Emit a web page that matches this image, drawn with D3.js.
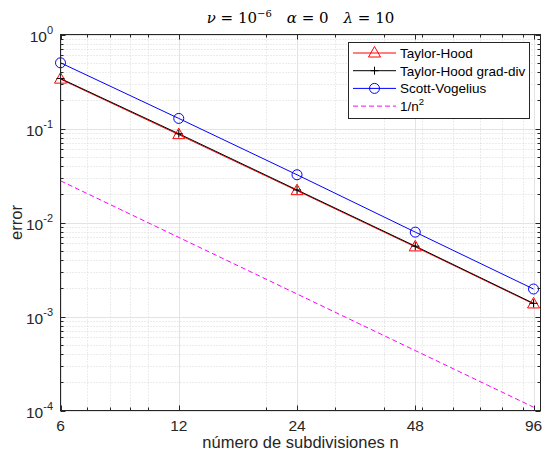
<!DOCTYPE html>
<html>
<head>
<meta charset="utf-8">
<script src="https://cdn.jsdelivr.net/npm/d3@7"></script>
<style>
  body { margin: 0; background: #fff; }
  svg { display: block; }
</style>
</head>
<body>
<script>
var width = 544;
var height = 455;

// datos
var subdivisiones = [6, 12, 24, 48, 96];
var taylorHood = [0.335, 0.086, 0.0218, 0.0055, 0.00136];
var taylorHoodGradDiv = [0.34, 0.088, 0.0222, 0.0056, 0.00138];
var scottVogelius = [0.50, 0.128, 0.0322, 0.0079, 0.00196];
var unoSobreN2 = [0.02778, 0.006944, 0.001736, 0.000434, 0.0001085];
var xTicks = [6, 12, 24, 48, 96];
var xMinor = [7, 8, 9, 10, 20, 30, 40, 50, 60, 70, 80, 90];
var yTicks = [1e-4, 1e-3, 1e-2, 1e-1, 1];
var yExp = ['-4', '-3', '-2', '-1', '0'];

var pL = 60.5, pR = 540.5, pT = 34.5, pB = 410.5;
var axisColor = '#262626';

var svg = d3.select('body').append('svg')
  .attr('width', width)
  .attr('height', height)
  .style('font-family', 'Liberation Sans, Arial, sans-serif');

var x = d3.scaleLog().domain([6, 100]).range([pL, pR]);
var y = d3.scaleLog().domain([1e-4, 1]).range([pB, pT]);

var yMinor = [];
[1e-4, 1e-3, 1e-2, 1e-1].forEach(function(d){
  for (var k = 2; k <= 9; k++) yMinor.push(d * k);
});

// grid
var grid = svg.append('g');
grid.selectAll('.gxm').data(xMinor).enter().append('line')
  .attr('x1', d => Math.round(x(d)) + 0.5).attr('x2', d => Math.round(x(d)) + 0.5)
  .attr('y1', pT).attr('y2', pB)
  .attr('stroke', '#cfcfcf').attr('stroke-width', 0.8)
  .attr('stroke-dasharray', '1,2');
grid.selectAll('.gym').data(yMinor).enter().append('line')
  .attr('x1', pL).attr('x2', pR)
  .attr('y1', d => Math.round(y(d)) + 0.5).attr('y2', d => Math.round(y(d)) + 0.5)
  .attr('stroke', '#cfcfcf').attr('stroke-width', 0.8)
  .attr('stroke-dasharray', '1,2');
grid.selectAll('.gx').data(xTicks).enter().append('line')
  .attr('x1', d => Math.round(x(d)) + 0.5).attr('x2', d => Math.round(x(d)) + 0.5)
  .attr('y1', pT).attr('y2', pB)
  .attr('stroke', '#e3e3e3').attr('stroke-width', 1);
grid.selectAll('.gy').data(yTicks).enter().append('line')
  .attr('x1', pL).attr('x2', pR)
  .attr('y1', d => Math.round(y(d)) + 0.5).attr('y2', d => Math.round(y(d)) + 0.5)
  .attr('stroke', '#e3e3e3').attr('stroke-width', 1);

// series
var line = d3.line().x((d, i) => x(subdivisiones[i])).y(d => y(d));

svg.append('path').datum(unoSobreN2).attr('d', line)
  .attr('fill', 'none').attr('stroke', '#ff00ff').attr('stroke-width', 1)
  .attr('stroke-dasharray', '5,3');
svg.append('path').datum(taylorHood).attr('d', line)
  .attr('fill', 'none').attr('stroke', '#ff0000').attr('stroke-width', 1);
svg.append('path').datum(taylorHoodGradDiv).attr('d', line)
  .attr('fill', 'none').attr('stroke', '#000').attr('stroke-width', 1);
svg.append('path').datum(scottVogelius).attr('d', line)
  .attr('fill', 'none').attr('stroke', '#0000ff').attr('stroke-width', 1);

function triangle(g, cx, cy) {
  g.append('path')
    .attr('d', 'M' + cx + ',' + (cy - 6.5) + 'L' + (cx + 6) + ',' + (cy + 4) + 'L' + (cx - 6) + ',' + (cy + 4) + 'Z')
    .attr('fill', 'none').attr('stroke', '#ff0000').attr('stroke-width', 1);
}
function plus(g, cx, cy) {
  g.append('path')
    .attr('d', 'M' + (cx - 4) + ',' + cy + 'H' + (cx + 4) + 'M' + cx + ',' + (cy - 4) + 'V' + (cy + 4))
    .attr('stroke', '#000').attr('stroke-width', 1);
}
function circle(g, cx, cy) {
  g.append('circle').attr('cx', cx).attr('cy', cy).attr('r', 5)
    .attr('fill', 'none').attr('stroke', '#0000ff').attr('stroke-width', 1);
}

var marks = svg.append('g');
taylorHood.forEach((d, i) => triangle(marks, x(subdivisiones[i]), y(d)));
taylorHoodGradDiv.forEach((d, i) => plus(marks, x(subdivisiones[i]), y(d)));
scottVogelius.forEach((d, i) => circle(marks, x(subdivisiones[i]), y(d)));

// axes box and ticks
var ax = svg.append('g').attr('stroke', axisColor).attr('stroke-width', 1);
ax.append('rect').attr('x', pL).attr('y', pT)
  .attr('width', pR - pL).attr('height', pB - pT).attr('fill', 'none');
xTicks.forEach(function(d){
  var xx = Math.round(x(d)) + 0.5;
  ax.append('line').attr('x1', xx).attr('x2', xx).attr('y1', pB).attr('y2', pB - 5);
  ax.append('line').attr('x1', xx).attr('x2', xx).attr('y1', pT).attr('y2', pT + 5);
});
xMinor.forEach(function(d){
  var xx = Math.round(x(d)) + 0.5;
  ax.append('line').attr('x1', xx).attr('x2', xx).attr('y1', pB).attr('y2', pB - 3);
  ax.append('line').attr('x1', xx).attr('x2', xx).attr('y1', pT).attr('y2', pT + 3);
});
yTicks.forEach(function(d){
  var yy = Math.round(y(d)) + 0.5;
  ax.append('line').attr('y1', yy).attr('y2', yy).attr('x1', pL).attr('x2', pL + 5);
  ax.append('line').attr('y1', yy).attr('y2', yy).attr('x1', pR).attr('x2', pR - 5);
});
yMinor.forEach(function(d){
  var yy = Math.round(y(d)) + 0.5;
  ax.append('line').attr('y1', yy).attr('y2', yy).attr('x1', pL).attr('x2', pL + 3);
  ax.append('line').attr('y1', yy).attr('y2', yy).attr('x1', pR).attr('x2', pR - 3);
});

// tick labels
svg.selectAll('.xl').data(xTicks).enter().append('text')
  .attr('x', d => x(d)).attr('y', pB + 20)
  .attr('text-anchor', 'middle').attr('font-size', 15.5).attr('fill', axisColor)
  .text(d => d);

var yl = svg.selectAll('.yl').data(yTicks).enter().append('text')
  .attr('x', 53).attr('y', d => y(d) + 7)
  .attr('text-anchor', 'end').attr('font-size', 15.5).attr('fill', axisColor);
yl.append('tspan').text('10');
yl.append('tspan').attr('dy', -8).attr('font-size', 11).text((d, i) => yExp[i]);

svg.append('text').attr('x', (pL + pR) / 2).attr('y', 448)
  .attr('text-anchor', 'middle').attr('font-size', 16.5).attr('fill', axisColor)
  .text('número de subdivisiones n');
svg.append('text').attr('transform', 'translate(22,' + ((pT + pB) / 2) + ') rotate(-90)')
  .attr('text-anchor', 'middle').attr('font-size', 16.5).attr('fill', axisColor)
  .text('error');

// title
var title = svg.append('text').attr('x', (pL + pR) / 2).attr('y', 23)
  .attr('text-anchor', 'middle').attr('font-size', 15).attr('fill', '#000')
  .style('font-family', 'DejaVu Serif, Liberation Serif, serif');
title.append('tspan').attr('font-style', 'italic').text('ν');
title.append('tspan').text(' = 10');
title.append('tspan').attr('dy', -6).attr('font-size', 10).text('−6');
title.append('tspan').attr('dy', 6).attr('font-style', 'italic').text('\u2002\u2002α');
title.append('tspan').text(' = 0\u2002\u2002');
title.append('tspan').attr('font-style', 'italic').text('λ');
title.append('tspan').text(' = 10');

// legend
var leg = svg.append('g');
leg.append('rect').attr('x', 348.5).attr('y', 42.5).attr('width', 181).attr('height', 76)
  .attr('fill', '#fff').attr('stroke', axisColor).attr('stroke-width', 1);
var legItems = [
  {name: 'Taylor-Hood', color: '#ff0000', mark: triangle},
  {name: 'Taylor-Hood grad-div', color: '#000', mark: plus},
  {name: 'Scott-Vogelius', color: '#0000ff', mark: circle},
  {name: '1/n', color: '#ff00ff', mark: null}
];
legItems.forEach(function(it, i){
  var ly = 53 + i * 17.7;
  var l = leg.append('line').attr('x1', 353).attr('x2', 396).attr('y1', ly).attr('y2', ly)
    .attr('stroke', it.color).attr('stroke-width', 1);
  if (!it.mark) l.attr('stroke-dasharray', '5,3');
  else it.mark(leg, 374.5, ly);
  var t = leg.append('text').attr('x', 400).attr('y', ly + 5)
    .attr('font-size', 13.5).attr('fill', '#000').text(it.name);
  if (!it.mark) t.append('tspan').attr('dy', -6).attr('font-size', 9.5).text('2');
});
</script>
</body>
</html>
